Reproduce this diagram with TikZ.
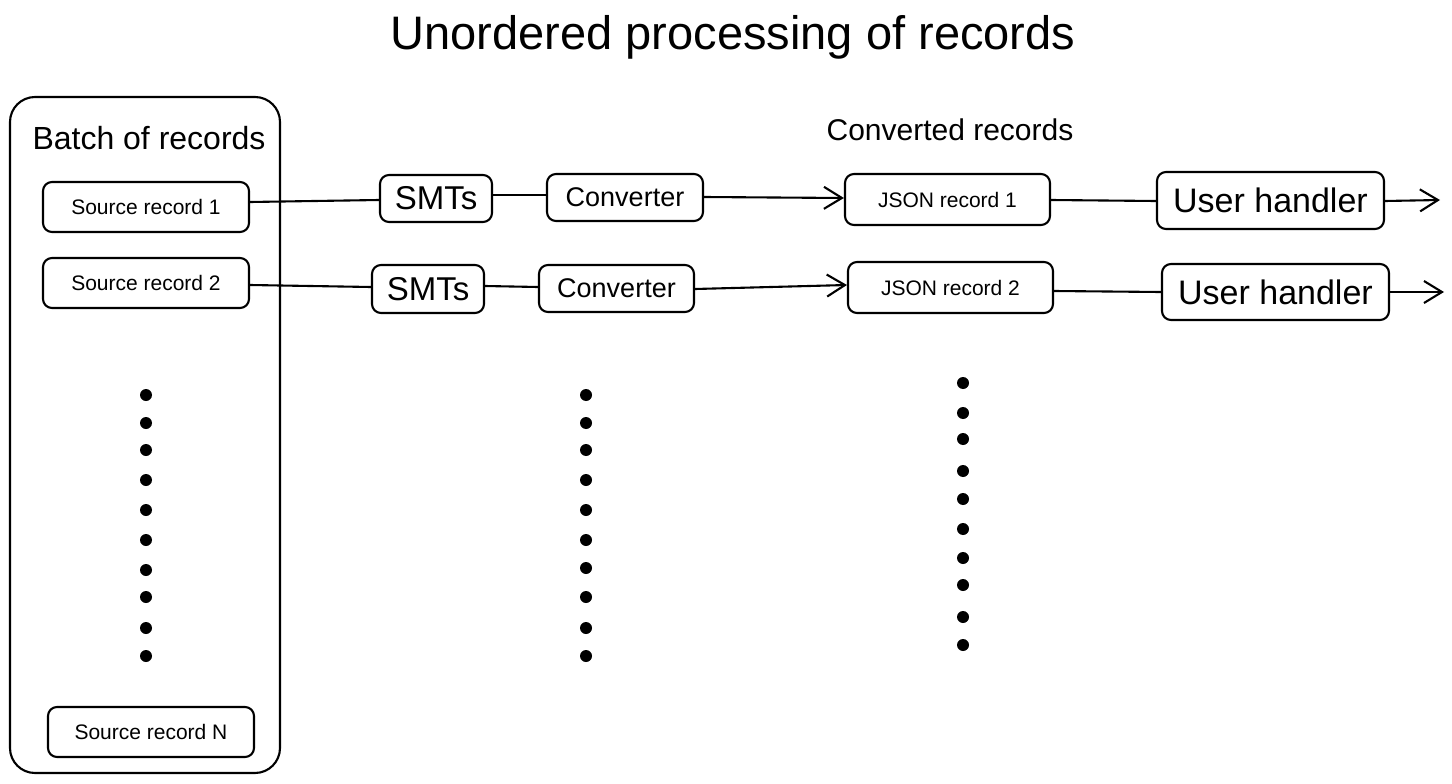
\documentclass[tikz,border=0pt]{standalone}
\usepackage{fontspec}
\setmainfont{Liberation Sans}
\usetikzlibrary{arrows.meta}
\newcommand{\fs}[1]{\fontsize{#1}{#1}\selectfont}
\begin{document}
\begin{tikzpicture}[x=1pt,y=-1pt,
  box/.style={draw, line width=2.1pt, rounded corners=9pt, inner sep=0pt, align=center},
  conn/.style={line width=2.1pt},
  arr/.style={line width=2.1pt, -{Straight Barb[length=18pt,width=22pt,line width=2.1pt]}},
  dotm/.style={fill=black, circle, inner sep=0pt, minimum size=12pt}]
\useasboundingbox (0,0) rectangle (1452,784);
% title
\node (title) at (733,37) {\fs{47}Unordered processing of records};
% batch container
\node[box, rounded corners=25pt, minimum width=270pt, minimum height=676pt] (batch) at (145,435) {};
\node (batchlbl) at (149,138) {\fs{32}Batch of records};
% source records
\node[box, minimum width=206pt, minimum height=50pt] (s1) at (146,207) {\fs{21}Source record 1};
\node[box, minimum width=206pt, minimum height=50pt] (s2) at (146,283) {\fs{21}Source record 2};
\node[box, minimum width=206pt, minimum height=50pt] (sn) at (151,732) {\fs{21}Source record N};
% row 1
\node[box, minimum width=112pt, minimum height=47pt] (smt1) at (436,198.5) {\fs{33}SMTs};
\node[box, minimum width=156pt, minimum height=47pt] (cv1) at (625,197.5) {\fs{27}Converter};
\node[box, minimum width=205pt, minimum height=51pt] (j1) at (947.5,199.5) {\fs{21}JSON record 1};
\node[box, minimum width=227pt, minimum height=57pt] (u1) at (1270.5,200.5) {\fs{34}User handler};
\coordinate (e1) at (1440,200);
% row 2
\node[box, minimum width=112pt, minimum height=48pt] (smt2) at (428,289) {\fs{33}SMTs};
\node[box, minimum width=155pt, minimum height=47pt] (cv2) at (616.5,288.5) {\fs{27}Converter};
\node[box, minimum width=205pt, minimum height=51pt] (j2) at (950.5,287.5) {\fs{21}JSON record 2};
\node[box, minimum width=227pt, minimum height=56pt] (u2) at (1275.5,292) {\fs{34}User handler};
\coordinate (e2) at (1444,292);
\node (convlbl) at (950,130) {\fs{30}Converted records};
% connectors row 1
\draw[conn] (s1.east |- 0,202) -- (smt1.west |- 0,200);
\draw[conn] (smt1.east |- 0,195) -- (cv1.west |- 0,195);
\draw[arr] (cv1.east |- 0,197) -- (j1.west |- 0,198);
\draw[conn] (j1.east |- 0,200) -- (u1.west |- 0,201);
\draw[arr] (u1.east |- 0,201) -- (e1);
% connectors row 2
\draw[conn] (s2.east |- 0,285) -- (smt2.west |- 0,287);
\draw[conn] (smt2.east |- 0,286) -- (cv2.west |- 0,287);
\draw[arr] (cv2.east |- 0,289) -- (j2.west |- 0,285);
\draw[conn] (j2.east |- 0,291) -- (u2.west |- 0,292);
\draw[arr] (u2.east |- 0,292) -- (e2);
% dots
\foreach \y [count=\i] in {395,423,450,480,510,540,570,597,628,656}
  \node[dotm] (dl\i) at (146,\y) {};
\foreach \y [count=\i] in {395,423,450,480,510,540,568,597,628,656}
  \node[dotm] (dm\i) at (586,\y) {};
\foreach \y [count=\i] in {383,413,439,471,499,529,558,585,617,645}
  \node[dotm] (dr\i) at (963,\y) {};
\end{tikzpicture}
\end{document}
